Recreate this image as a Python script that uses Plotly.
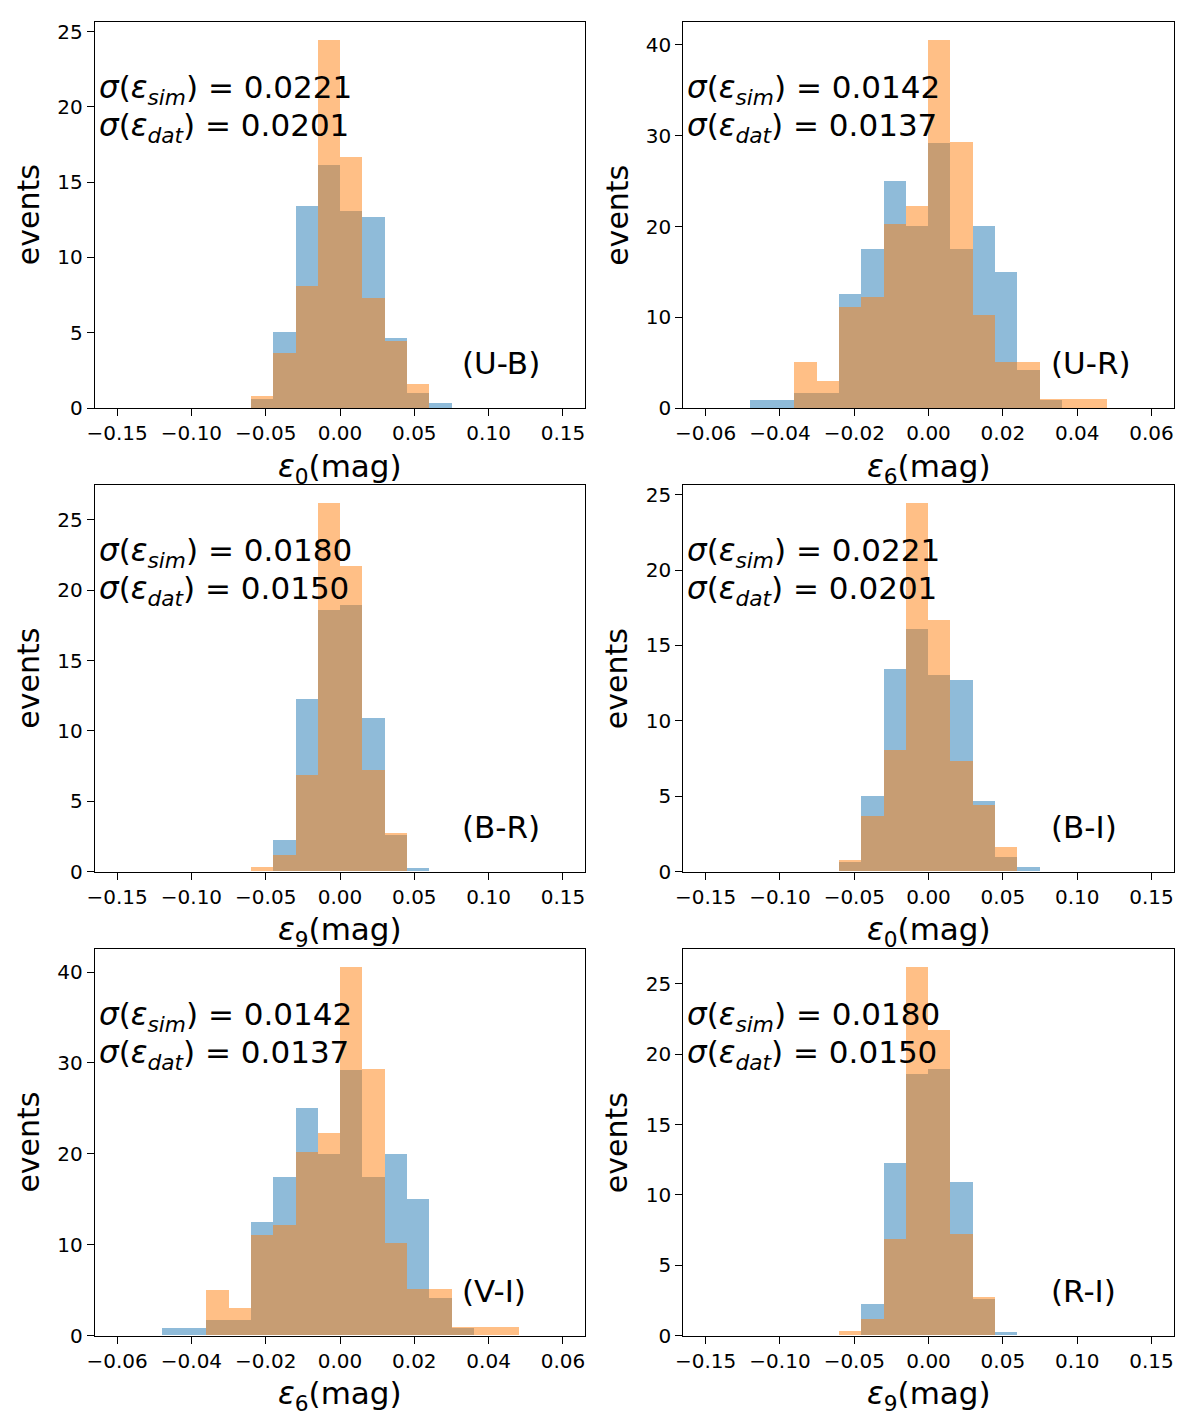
import plotly.graph_objects as go
from plotly.subplots import make_subplots

# bin left edges and densities
eps0_edges = [-0.06, -0.045, -0.03, -0.015, 0.0, 0.015, 0.03, 0.045, 0.06]
eps0_sim = [0.6, 5.0, 13.4, 16.1, 13.05, 12.7, 4.65, 0.97, 0.29]
eps0_dat = [0.77, 3.65, 8.07, 24.4, 16.66, 7.3, 4.42, 1.59, 0.0]

eps6_edges = [-0.048, -0.042, -0.036, -0.030, -0.024, -0.018, -0.012, -0.006,
              0.0, 0.006, 0.012, 0.018, 0.024, 0.030, 0.036, 0.042]
eps6_sim = [0.82, 0.82, 1.65, 1.65, 12.48, 17.47, 25.03, 20.0,
            29.2, 17.47, 20.0, 14.97, 4.14, 0.85, 0.0, 0.0]
eps6_dat = [0.0, 0.0, 5.04, 3.0, 11.08, 12.15, 20.22, 22.24,
            40.48, 29.28, 10.2, 5.06, 5.06, 0.95, 0.95, 0.95]

eps9_edges = [-0.06, -0.045, -0.03, -0.015, 0.0, 0.015, 0.03, 0.045]
eps9_sim = [0.0, 2.26, 12.25, 18.55, 18.89, 10.9, 2.61, 0.24]
eps9_dat = [0.31, 1.14, 6.82, 26.14, 21.68, 7.23, 2.75, 0.0]

colours = ["(U-B)", "(U-R)", "(B-R)", "(B-I)", "(V-I)", "(R-I)"]
eps_index = ["0", "6", "9", "0", "6", "9"]

hist = {
    "0": dict(edges=eps0_edges, width=0.015, sim=eps0_sim, dat=eps0_dat,
              sig_sim="0.0221", sig_dat="0.0201", xr=[-0.165, 0.165], dx=0.05, dy=5),
    "6": dict(edges=eps6_edges, width=0.006, sim=eps6_sim, dat=eps6_dat,
              sig_sim="0.0142", sig_dat="0.0137", xr=[-0.066, 0.066], dx=0.02, dy=10),
    "9": dict(edges=eps9_edges, width=0.015, sim=eps9_sim, dat=eps9_dat,
              sig_sim="0.0180", sig_dat="0.0150", xr=[-0.165, 0.165], dx=0.05, dy=5),
}

# the page body keeps an 8px margin, so the figure is drawn 16px smaller
PAD = 8
W, H = 1200 - 2 * PAD, 1423 - 2 * PAD
col_px = [(91.7, 583.3), (681.7, 1173.3)]
row_px = [(21.7, 407.7), (485.0, 871.7), (949.3, 1336.0)]


def lx(px):
    # screen x wanted -> layout x (small correction seen in the snapshot)
    return (px - 4.7) / 0.9957 - PAD


def ly(py):
    return (py - 2.5) / 0.990 - PAD


font = "DejaVu Sans"
blue = "rgba(31,119,180,0.5)"
orange = "rgba(255,127,14,0.5)"

fig = make_subplots(rows=3, cols=2)
annotations = []

for k, (label, e) in enumerate(zip(colours, eps_index)):
    r, c = k // 2 + 1, k % 2 + 1
    d = hist[e]
    for vals, col in ((d["sim"], blue), (d["dat"], orange)):
        fig.add_trace(go.Bar(x=d["edges"], y=vals, width=d["width"], offset=0,
                             marker=dict(color=col, line=dict(width=0)),
                             showlegend=False), row=r, col=c)

    ax = "" if k == 0 else str(k + 1)
    x0, x1 = [lx(p) for p in col_px[c - 1]]
    y0, y1 = [ly(p) for p in row_px[r - 1]]
    ymax = max(max(d["sim"]), max(d["dat"])) * 1.05
    fig.layout["xaxis" + ax].update(
        domain=[x0 / W, x1 / W], range=d["xr"], tick0=0, dtick=d["dx"],
        tickformat=".2f")
    fig.layout["yaxis" + ax].update(
        domain=[1 - y1 / H, 1 - y0 / H], range=[0, ymax], tick0=0, dtick=d["dy"])

    xd, yd = "x" + ax + " domain", "y" + ax + " domain"
    annotations += [
        dict(xref=xd, yref=yd, x=0.004, y=0.826, xanchor="left", yanchor="middle",
             text="<i>σ</i>(<i>ε</i><sub><i>sim</i></sub>) = " + d["sig_sim"],
             font=dict(size=31)),
        dict(xref=xd, yref=yd, x=0.004, y=0.728, xanchor="left", yanchor="middle",
             text="<i>σ</i>(<i>ε</i><sub><i>dat</i></sub>) = " + d["sig_dat"],
             font=dict(size=31)),
        dict(xref=xd, yref=yd, x=0.745, y=0.1166, xanchor="left", yanchor="middle",
             text=label, font=dict(size=31)),
        dict(xref=xd, yref=yd, x=0.5, y=-0.156, xanchor="center", yanchor="middle",
             text="<i>ε</i><sub>" + e + "</sub>(mag)", font=dict(size=31)),
        dict(xref=xd, yref=yd, x=-0.136, y=0.5, xanchor="center", yanchor="middle",
             text="events", textangle=-90, font=dict(size=30)),
    ]

for a in annotations:
    a["showarrow"] = False

axis_style = dict(showgrid=False, zeroline=False, showline=True, mirror=True,
                  linecolor="black", linewidth=1.3, ticks="outside", ticklen=7,
                  tickwidth=1.3, tickcolor="black", tickfont=dict(size=20))
fig.update_xaxes(**axis_style)
fig.update_yaxes(**axis_style)

fig.update_layout(width=W, height=H, margin=dict(l=0, r=0, t=0, b=0),
                  barmode="overlay", bargap=0, plot_bgcolor="white",
                  paper_bgcolor="white", font=dict(family=font, color="black"),
                  annotations=annotations)

fig.write_html("out.html")
